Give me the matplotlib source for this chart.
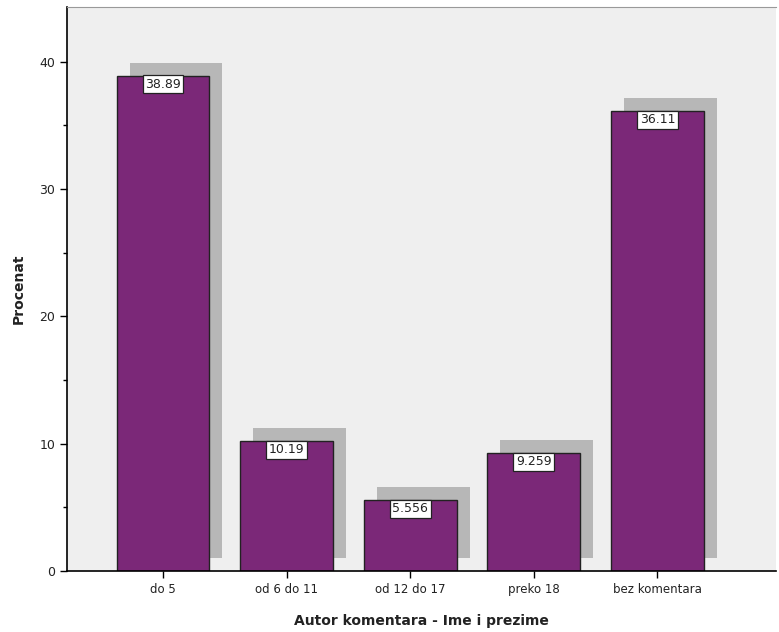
import numpy as np
import matplotlib
matplotlib.use("Agg")
import matplotlib.pyplot as plt

categories = ["do 5", "od 6 do 11", "od 12 do 17", "preko 18", "bez komentara"]
values = [38.89, 10.19, 5.556, 9.259, 36.11]
labels = ["38.89", "10.19", "5.556", "9.259", "36.11"]

fig = plt.figure(figsize=(7.79, 6.32), dpi=100)
ax = fig.add_axes([67 / 779, 61 / 632, 709 / 779, 564 / 632])
ax.set_facecolor("#efefef")

x = np.arange(len(categories))
w = 0.75
# drop shadow, shifted right and up
ax.bar(x + 0.105, values, width=w, bottom=1.05, color="#b7b7b7", zorder=1)
ax.bar(x, values, width=w, color="#7b2878", edgecolor="#222222", linewidth=1.0, zorder=2)

for xi, v, lab in zip(x, values, labels):
    ax.annotate(lab, (xi, v), xytext=(0, -1.4), textcoords="offset points",
                ha="center", va="top", fontsize=9, color="#222222", zorder=3,
                bbox=dict(boxstyle="square,pad=0.2", fc="white", ec="#222222", lw=0.9))

ax.set_xlim(-0.777, 4.96)
ax.set_ylim(0, 44.3)
ax.set_xticks(x)
ax.set_xticklabels(categories, fontsize=8.5, color="#222222")
ax.set_yticks([0, 10, 20, 30, 40])
ax.set_yticks([5, 15, 25, 35], minor=True)
ax.tick_params(axis="y", labelsize=9, length=5, width=1, labelcolor="#222222")
ax.tick_params(axis="y", which="minor", length=3, width=1)
ax.tick_params(axis="x", length=5, width=1)

ax.spines["left"].set_linewidth(1.2)
ax.spines["bottom"].set_linewidth(1.2)
ax.spines["top"].set_color("#999999")
ax.spines["top"].set_linewidth(0.8)
ax.spines["right"].set_visible(False)

ax.set_ylabel("Procenat", fontsize=10, fontweight="bold", labelpad=10, color="#222222")
ax.set_xlabel("Autor komentara - Ime i prezime", fontsize=10, fontweight="bold", labelpad=13,
              color="#222222")

fig.savefig("out.png", dpi=100)
